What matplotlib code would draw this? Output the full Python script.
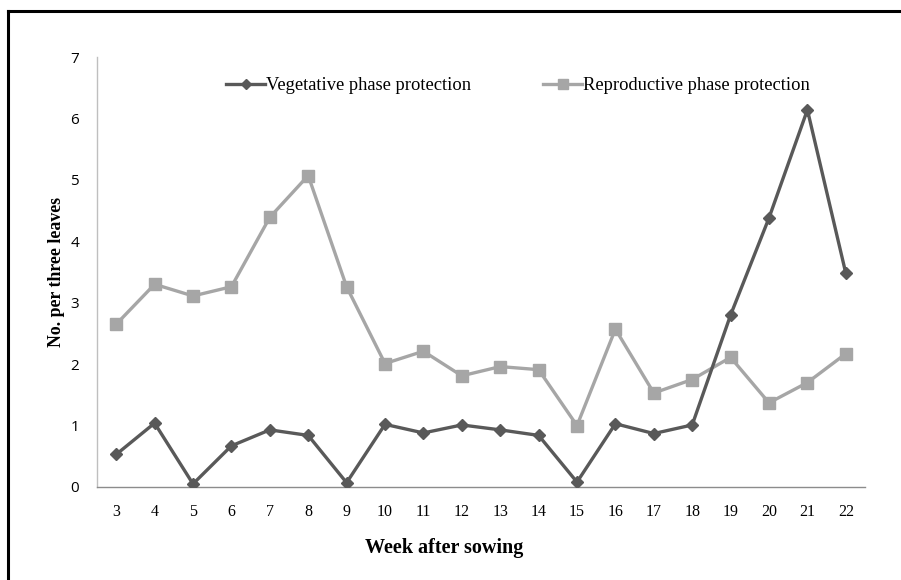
import matplotlib
matplotlib.use("Agg")
import matplotlib.pyplot as plt
from matplotlib.lines import Line2D

weeks = [3, 4, 5, 6, 7, 8, 9, 10, 11, 12, 13, 14, 15, 16, 17, 18, 19, 20, 21, 22]
vegetative = [0.53, 1.04, 0.05, 0.67, 0.93, 0.84, 0.07, 1.02, 0.88, 1.01,
              0.93, 0.84, 0.08, 1.03, 0.87, 1.01, 2.80, 4.38, 6.14, 3.48]
reproductive = [2.65, 3.30, 3.11, 3.26, 4.39, 5.07, 3.26, 2.01, 2.21, 1.81,
                1.96, 1.91, 1.00, 2.57, 1.53, 1.75, 2.11, 1.37, 1.70, 2.17]
yticks = [0, 1, 2, 3, 4, 5, 6, 7]
series_names = ["Vegetative phase protection", "Reproductive phase protection"]

serif = "Liberation Serif"
sans = "Open Sans"

fig = plt.figure(figsize=(9.01, 5.80), dpi=100)
W, H = 901, 580
ax = fig.add_axes([97 / W, (H - 487) / H, (865 - 97) / W, (487 - 57) / H])

dark = "#595959"
light = "#a6a6a6"

l2, = ax.plot(weeks, reproductive, color=light, lw=2.4, marker="s", ms=8.5,
              markeredgecolor=light, label=series_names[1], zorder=2)
l1, = ax.plot(weeks, vegetative, color=dark, lw=2.4, marker="D", ms=6,
              markeredgecolor=dark, label=series_names[0], zorder=3)

ax.set_xlim(2.5, 22.5)
ax.set_ylim(0, 7)
ax.set_xticks(weeks)
ax.set_xticklabels([str(w) for w in weeks], fontfamily=serif, fontsize=11.5)
ax.set_yticks(yticks)
ax.set_yticklabels([str(v) for v in yticks], fontfamily=sans, fontsize=11)
ax.tick_params(axis="both", length=0)
ax.tick_params(axis="x", pad=12)
ax.tick_params(axis="y", pad=13)

for s in ["top", "right"]:
    ax.spines[s].set_visible(False)
ax.spines["left"].set_color("#bfbfbf")
ax.spines["left"].set_linewidth(1.0)
ax.spines["bottom"].set_color("#8c8c8c")
ax.spines["bottom"].set_linewidth(1.0)

fig.text(444 / W, 1 - 548 / H, "Week after sowing", fontfamily=serif,
         fontweight="bold", fontsize=14.5, ha="center", va="center")
fig.text(57 / W, 1 - 272 / H, "No. per three leaves", fontfamily=serif,
         fontweight="bold", fontsize=12.8, ha="center", va="center",
         rotation=90)

leg = ax.legend(handles=[l1, l2], loc="center", bbox_to_anchor=(518 / W, 1 - 86 / H),
                bbox_transform=fig.transFigure, ncol=2, frameon=False,
                prop={"family": serif, "size": 13.3}, handlelength=2.1,
                handletextpad=0.05, columnspacing=3.9, markerscale=0.8)

# figure frame (top and left edges visible)
fig.add_artist(Line2D([8 / W, 8 / W], [0, 1 - 11 / H], transform=fig.transFigure,
                      color="black", lw=2.2))
fig.add_artist(Line2D([8 / W, 1], [1 - 11 / H, 1 - 11 / H], transform=fig.transFigure,
                      color="black", lw=2.2))

fig.savefig("out.png", dpi=100)
